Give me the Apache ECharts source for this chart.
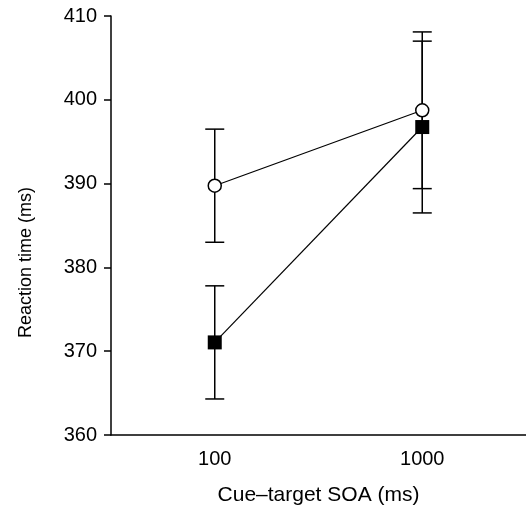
<!DOCTYPE html>
<html>
<head>
<meta charset="utf-8">
<script src="https://cdn.jsdelivr.net/npm/echarts@6/dist/echarts.min.js"></script>
<style>
  html, body { margin: 0; padding: 0; background: #fff; }
  #chart { width: 526px; height: 506px; }
</style>
</head>
<body>
<div id="chart"></div>
<script>
// cue-target SOA conditions
const soaLabels = ["100", "1000"];
// open circles
const openMeans = [389.75, 398.75];
const openErr = [6.75, 9.35];
// filled squares
const filledMeans = [371.05, 396.75];
const filledErr = [6.75, 10.25];

const yTicks = { min: 360, max: 410, step: 10 };

const font = "Liberation Sans, Arial, sans-serif";

const barData = (means, errs) =>
  means.map((m, i) => [i, m - errs[i], m + errs[i]]);

const errorBars = (means, errs) => ({
  type: "custom",
  z: 1,
  data: barData(means, errs),
  encode: { x: 0, y: [1, 2] },
  renderItem: (params, api) => {
    const x = api.value(0);
    const lo = api.coord([x, api.value(1)]);
    const hi = api.coord([x, api.value(2)]);
    const half = 9.5;
    const style = { stroke: "#000", lineWidth: 1.5 };
    return {
      type: "group",
      children: [
        { type: "line", shape: { x1: lo[0], y1: lo[1], x2: hi[0], y2: hi[1] }, style },
        { type: "line", shape: { x1: hi[0] - half, y1: hi[1], x2: hi[0] + half, y2: hi[1] }, style },
        { type: "line", shape: { x1: lo[0] - half, y1: lo[1], x2: lo[0] + half, y2: lo[1] }, style },
      ],
    };
  },
});

const chart = echarts.init(document.getElementById("chart"));

chart.setOption({
  animation: false,
  grid: {
    left: 111,
    right: 0,
    top: 16,
    bottom: 71,
    containLabel: false,
    outerBoundsMode: "none",
  },
  xAxis: {
    type: "category",
    data: soaLabels,
    boundaryGap: true,
    name: "Cue\u2013target SOA (ms)",
    nameLocation: "middle",
    nameGap: 50,
    nameTextStyle: { fontFamily: font, fontSize: 21, color: "#000" },
    axisLine: { lineStyle: { color: "#000", width: 1.5 } },
    axisTick: { alignWithLabel: true, length: 7, lineStyle: { color: "#000", width: 1.5 } },
    axisLabel: { fontFamily: font, fontSize: 20, color: "#000", margin: 14 },
    splitLine: { show: false },
  },
  yAxis: {
    type: "value",
    min: yTicks.min,
    max: yTicks.max,
    interval: yTicks.step,
    name: "Reaction time (ms)",
    nameLocation: "middle",
    nameGap: 76,
    nameRotate: 90,
    nameTextStyle: {
      fontFamily: font,
      fontSize: 18,
      color: "#000",
      padding: [0, 74, 0, 0],
    },
    axisLine: { show: true, lineStyle: { color: "#000", width: 1.5 } },
    axisTick: { show: true, length: 7, lineStyle: { color: "#000", width: 1.5 } },
    axisLabel: { fontFamily: font, fontSize: 20, color: "#000", margin: 14 },
    splitLine: { show: false },
  },
  series: [
    errorBars(openMeans, openErr),
    errorBars(filledMeans, filledErr),
    {
      type: "line",
      z: 3,
      data: openMeans,
      symbol: "circle",
      symbolSize: 13,
      lineStyle: { color: "#000", width: 1.2 },
      itemStyle: { color: "#fff", borderColor: "#000", borderWidth: 1.5 },
    },
    {
      type: "line",
      z: 4,
      data: filledMeans,
      symbol: "rect",
      symbolSize: 14,
      lineStyle: { color: "#000", width: 1.2 },
      itemStyle: { color: "#000", borderColor: "#000", borderWidth: 0 },
    },
  ],
});
</script>
</body>
</html>
